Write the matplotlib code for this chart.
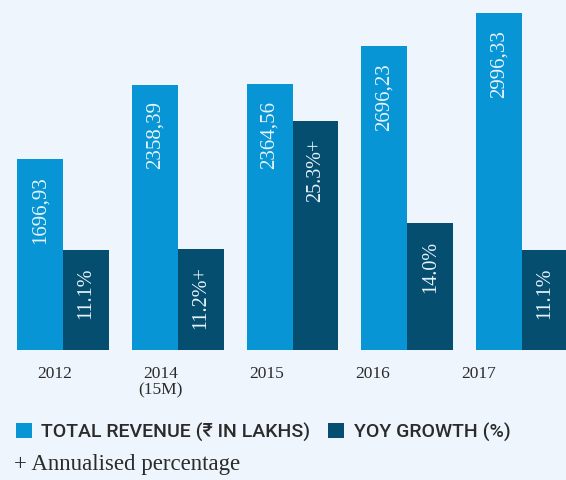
import matplotlib.pyplot as plt
import numpy as np

years = ['2012', '2014\n(15M)', '2015', '2016', '2017']
revenue = [1696.93, 2358.39, 2364.56, 2696.23, 2996.33]
revenue_labels = ['1696,93', '2358,39', '2364,56', '2696,23', '2996,33']
growth = [11.1, 11.2, 25.3, 14.0, 11.1]
growth_labels = ['11.1%', '11.2%+', '25.3%+', '14.0%', '11.1%']

bg = '#eef5fc'
light = '#0895d5'
dark = '#064e70'
txt = '#2b2b2b'
serif = ['Liberation Serif', 'DejaVu Serif']
sans = ['Roboto', 'DejaVu Sans']

fig = plt.figure(figsize=(5.66, 4.81), dpi=100, facecolor=bg)
ax = fig.add_axes([0, 0.2703, 1, 0.7297])
ax.set_facecolor(bg)
ax2 = ax.twinx()

x = np.arange(len(years))
w = 0.4
b1 = ax.bar(x - w / 2, revenue, w, color=light, linewidth=0)
b2 = ax2.bar(x + w / 2, growth, w, color=dark, linewidth=0)

ax.set_xlim(-0.549, 4.383)
ax.set_ylim(0, 3118)
ax2.set_ylim(0, 38.8)

for i in range(len(years)):
    ax.annotate(revenue_labels[i], (x[i] - w / 2, revenue[i]), xytext=(0, -11.5),
                textcoords='offset points', rotation=90, ha='center', va='top',
                color='#e6f3fb', fontsize=15, family=serif)
    ax2.annotate(growth_labels[i], (x[i] + w / 2, growth[i]), xytext=(0, -12),
                 textcoords='offset points', rotation=90, ha='center', va='top',
                 color='#e6f3fb', fontsize=14.5, family=serif)

for a in (ax, ax2):
    for s in a.spines.values():
        s.set_visible(False)
    a.set_yticks([])
ax.set_xticks(x * 0.922 - 0.07)
ax.set_xticklabels(years, fontsize=12.5, family=serif, color=txt, linespacing=1.05)
ax.tick_params(axis='x', length=0, pad=11)

fig.legend([b1, b2], ['TOTAL REVENUE (₹ IN LAKHS)', 'YOY GROWTH (%)'],
           loc='lower left', bbox_to_anchor=(0.0, 0.048), ncol=2, frameon=False,
           prop={'family': sans, 'size': 14, 'weight': 'medium'}, labelcolor=txt,
           handlelength=0.83, handleheight=0.83, handletextpad=0.5,
           columnspacing=0.9, borderpad=0.3)
fig.text(14 / 566, 1 - 465 / 481, '+ Annualised percentage', ha='left', va='center',
         fontsize=16.5, family=serif, color=txt)

fig.savefig('out.png', dpi=100, facecolor=bg)
